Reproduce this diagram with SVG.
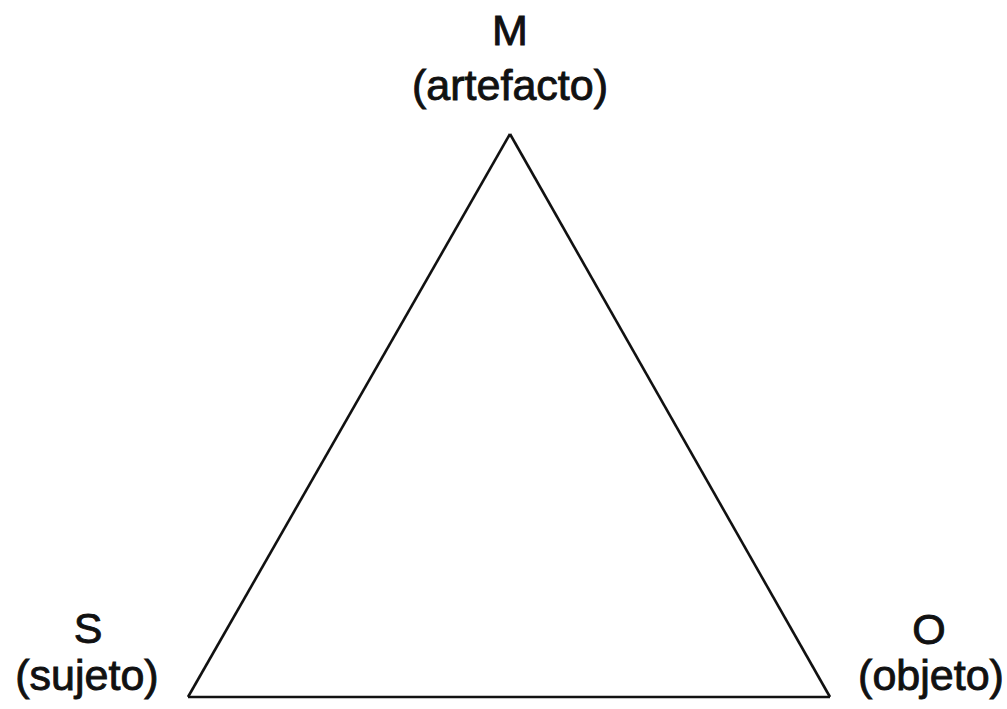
<svg xmlns="http://www.w3.org/2000/svg" width="1007" height="709" viewBox="0 0 1007 709">
<style>
text{font-family:"Liberation Sans",Arial,sans-serif;font-size:43px;fill:#111;stroke:#111;stroke-width:0.9;text-anchor:middle}
.edge{stroke:#111;stroke-width:2.6;fill:none;stroke-linejoin:miter}
</style>
<rect width="1007" height="709" fill="#fff"/>
<g id="connectors">
<line class="edge" x1="510" y1="134" x2="188" y2="697"/>
<line class="edge" x1="510" y1="134" x2="830" y2="697"/>
<line class="edge" x1="188" y1="697" x2="830" y2="697"/>
</g>
<g id="node-M">
<text x="510" y="45">M</text>
<text x="510" y="100">(artefacto)</text>
</g>
<g id="node-S">
<text x="88" y="643">S</text>
<text x="87" y="690">(sujeto)</text>
</g>
<g id="node-O">
<text x="929" y="644">O</text>
<text x="931" y="690">(objeto)</text>
</g>
</svg>
